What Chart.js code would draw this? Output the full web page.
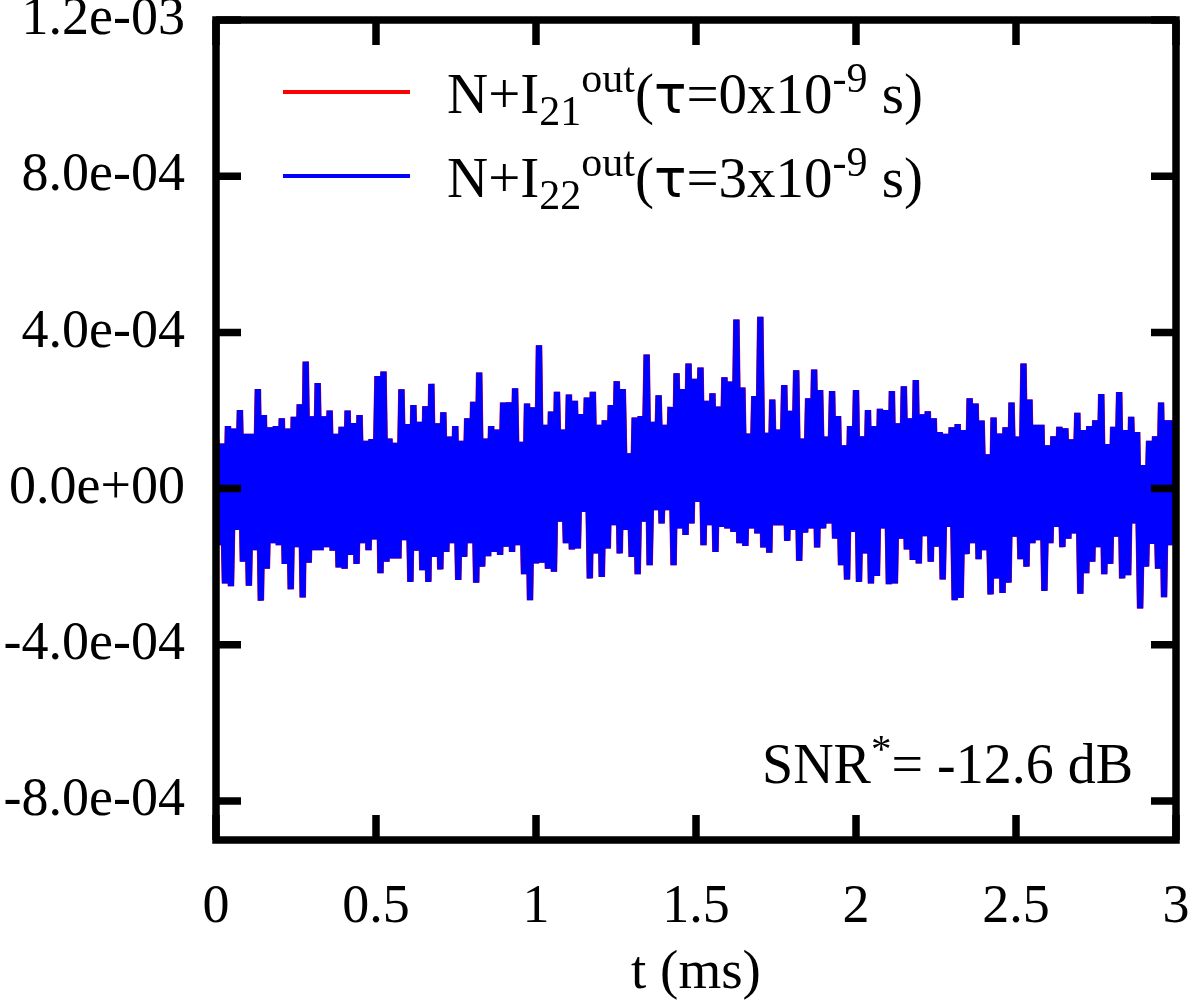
<!DOCTYPE html>
<html>
<head>
<meta charset="utf-8">
<script src="https://cdn.jsdelivr.net/npm/chart.js@4.4.1/dist/chart.umd.min.js"></script>
<style>
    html, body { margin: 0; padding: 0; background: #fff; }
    #wrap { width: 1200px; height: 1000px; }
</style>
</head>
<body>
<div id="wrap"><canvas id="chart" width="1200" height="1000"></canvas></div>
<script>
// time axis (ms)
const timeMaxMs = 3;
const xTickValues = [0, 0.5, 1, 1.5, 2, 2.5, 3];
const xTickLabels = ["0", "0.5", "1", "1.5", "2", "2.5", "3"];

// amplitude axis, values in units of 1e-4
const yMin = -9;
const yMax = 12;
const yTickValues = [-8, -4, 0, 4, 8, 12];
const yTickLabels = ["-8.0e-04", "-4.0e-04", "0.0e+00", "4.0e-04", "8.0e-04", "1.2e-03"];

// noise, uniform sampling over 0..3 ms (units of 1e-4)
// the two outputs overlap almost everywhere, so the same samples are used for both
const noiseSamples = [
    1.3, -1.45, 1.15, -2.43, 1.6, -2.5, 1.54, -1.06, 2.01, -1.87, 1.4, -2.49, 1.4, -1.58, 2.55, -2.87,
    1.88, -2.05, 1.57, -1.4, 1.6, -1.45, 1.8, -1.93, 1.54, -2.58, 1.84, -1.5, 2.16, -2.79, 3.25, -1.9,
    1.85, -1.58, 2.7, -1.58, 1.85, -1.5, 2.0, -1.59, 1.4, -2.02, 1.58, -2.05, 2.0, -1.7, 1.68, -1.93,
    1.88, -1.4, 1.22, -1.58, 1.27, -1.3, 2.88, -2.17,
    3.0, -1.87, 1.28, -1.79, 1.17, -1.79, 2.54, -1.32, 1.65, -2.39, 2.14, -1.59, 1.71, -2.09, 2.11, -2.39,
    2.68, -1.75, 1.67, -2.07, 1.95, -1.62, 1.33, -1.4, 1.6, -2.34, 1.22, -1.75, 1.8, -1.4, 2.22, -2.41,
    2.97, -2.0, 1.28, -1.73, 1.6, -1.62, 1.51, -1.7, 2.2, -1.49, 2.21, -1.62, 2.57, -1.45, 1.2, -2.19,
    2.18, -2.86, 2.08, -1.92, 3.67, -1.9,
    1.63, -2.05, 1.97, -2.13, 2.48, -0.85, 1.51, -1.4, 2.41, -1.56, 2.25, -1.53, 1.91, -0.6, 2.33, -2.3,
    2.48, -1.66, 1.63, -2.26, 1.75, -1.53, 2.14, -0.94, 2.75, -1.66, 2.55, -1.06, 0.9, -1.75, 1.82, -2.19,
    1.86, -0.85, 3.43, -1.96, 1.71, -0.55, 2.39, -0.89, 1.63, -0.55, 2.09, -1.96, 2.95, -1.02, 2.55, -1.19,
    3.2, -0.89, 2.81, -0.34,
    3.1, -1.45, 2.25, -0.94, 2.44, -1.62, 2.1, -0.98, 2.85, -1.02, 2.74, -1.11, 4.33, -1.4, 2.59, -1.47,
    1.41, -1.02, 2.37, -1.15, 4.4, -1.51, 1.43, -1.64, 2.28, -0.94, 1.51, -0.94, 2.65, -1.34, 1.99, -1.06,
    3.03, -1.85, 1.28, -1.13, 2.31, -1.02, 3.05, -1.51, 2.52, -1.02, 1.33, -0.89, 2.5, -1.28, 1.86, -1.96,
    1.11, -2.33, 1.6, -1.11, 2.52, -2.39,
    1.34, -1.66, 2.01, -2.43, 1.6, -2.24, 2.04, -1.02, 2.01, -2.45, 2.5, -2.43, 1.67, -1.28, 2.62, -1.56,
    1.8, -1.83, 2.78, -1.92, 1.9, -1.22, 1.98, -1.87, 1.8, -1.49, 1.45, -2.33, 1.4, -0.98, 1.57, -2.86,
    1.65, -2.8, 1.5, -1.68, 2.31, -1.4, 2.18, -1.81, 1.74, -1.58, 0.88, -2.71, 1.82, -2.3, 1.41, -2.67,
    1.57, -2.41, 2.2, -1.23, 1.33, -1.81,
    3.2, -2.0, 2.28, -1.4, 1.63, -1.32, 1.63, -2.62, 1.11, -1.4, 1.34, -0.98, 1.58, -1.5, 1.54, -1.28,
    1.26, -1.15, 1.94, -2.69, 1.5, -2.17, 1.6, -1.87, 1.75, -1.5, 2.42, -2.19, 1.14, -1.93, 1.58, -1.23,
    2.47, -2.3, 1.5, -2.22, 1.84, -0.89, 1.45, -3.07, 0.6, -2.0, 1.22, -1.42, 1.34, -2.05, 2.2, -2.78,
    1.75, -1.45, 1.75, -1.45
];

const seriesColors = ["#ff0000", "#0000ff"];
const seriesSub = ["21", "22"];
const seriesDelay = ["0", "3"];
const snrText = "-12.6 dB";

const serif = "'Liberation Serif', 'Times New Roman', serif";

function toPoints(values) {
    return values.map((v, i) => ({ x: i * timeMaxMs / (values.length - 1), y: v }));
}

// rich text: parts of [text, kind] where kind is main / sub / sup / greek
function drawRich(ctx, x, baseline, parts, size) {
    const small = Math.round(size * 0.74);
    const fonts = {
        main: size + "px " + serif,
        sub: small + "px " + serif,
        sup: small + "px " + serif,
        greek: Math.round(size * 0.95) + "px 'DejaVu Sans', sans-serif",
    };
    const shift = { main: 0, sub: 12, sup: -21, greek: 0 };
    ctx.textAlign = "left";
    ctx.textBaseline = "alphabetic";
    parts.forEach(([text, kind]) => {
        ctx.font = fonts[kind];
        ctx.fillText(text, x, baseline + shift[kind]);
        x += ctx.measureText(text).width;
    });
}

const framePlugin = {
    id: "frame",
    afterDatasetsDraw(chart) {
        const { ctx, chartArea: a, scales: { x, y } } = chart;
        const tickLen = 25;
        ctx.save();
        ctx.strokeStyle = "#000";
        ctx.lineWidth = 7.5;
        ctx.beginPath();
        xTickValues.forEach(v => {
            const px = x.getPixelForValue(v);
            ctx.moveTo(px, a.bottom);
            ctx.lineTo(px, a.bottom - tickLen);
            ctx.moveTo(px, a.top);
            ctx.lineTo(px, a.top + tickLen);
        });
        yTickValues.forEach(v => {
            const py = y.getPixelForValue(v);
            ctx.moveTo(a.left, py);
            ctx.lineTo(a.left + tickLen, py);
            ctx.moveTo(a.right, py);
            ctx.lineTo(a.right - tickLen, py);
        });
        ctx.stroke();
        ctx.lineJoin = "miter";
        ctx.strokeRect(a.left, a.top, a.right - a.left, a.bottom - a.top);

        // legend
        ctx.lineWidth = 4;
        ctx.fillStyle = "#000";
        seriesColors.forEach((c, i) => {
            const ly = 92 + i * 84;
            ctx.strokeStyle = c;
            ctx.beginPath();
            ctx.moveTo(283, ly);
            ctx.lineTo(410, ly);
            ctx.stroke();
            drawRich(ctx, 447, ly + 21, [
                ["N+I", "main"], [seriesSub[i], "sub"], ["out", "sup"], ["(", "main"],
                ["\u03c4", "greek"], ["=" + seriesDelay[i] + "x10", "main"], ["-9", "sup"], [" s)", "main"],
            ], 57);
        });

        drawRich(ctx, 762, 783, [["SNR", "main"], ["*", "sup"], ["= " + snrText, "main"]], 56);
        ctx.restore();
    },
};

new Chart(document.getElementById("chart"), {
    type: "line",
    data: {
        datasets: [
            {
                label: "N+I21out(tau=0x10-9 s)",
                data: toPoints(noiseSamples),
                borderColor: seriesColors[0],
                borderWidth: 6.6,
                borderJoinStyle: "bevel",
                pointRadius: 0,
                tension: 0,
                order: 2,
            },
            {
                label: "N+I22out(tau=3x10-9 s)",
                data: toPoints(noiseSamples),
                borderColor: seriesColors[1],
                borderWidth: 6,
                borderJoinStyle: "bevel",
                pointRadius: 0,
                tension: 0,
                order: 1,
            },
        ],
    },
    options: {
        responsive: false,
        animation: false,
        layout: { padding: { top: 20, right: 24, bottom: 0, left: 0 } },
        plugins: {
            legend: { display: false },
            tooltip: { enabled: false },
        },
        scales: {
            x: {
                type: "linear",
                min: 0,
                max: timeMaxMs,
                grid: { display: false, drawTicks: false },
                border: { display: false },
                afterBuildTicks: s => { s.ticks = xTickValues.map(v => ({ value: v })); },
                afterFit: s => { s.height = 160; s.paddingLeft = 0; s.paddingRight = 0; },
                ticks: {
                    autoSkip: false,
                    maxRotation: 0,
                    padding: 35,
                    color: "#000",
                    font: { family: serif, size: 54 },
                    callback: v => xTickLabels[xTickValues.indexOf(v)],
                },
                title: {
                    display: true,
                    text: "t (ms)",
                    color: "#000",
                    font: { family: serif, size: 55 },
                    padding: { top: 0, bottom: -7 },
                },
            },
            y: {
                min: yMin,
                max: yMax,
                grid: { display: false, drawTicks: false },
                border: { display: false },
                afterBuildTicks: s => { s.ticks = yTickValues.map(v => ({ value: v })); },
                afterFit: s => { s.width = 216; s.paddingTop = 0; s.paddingBottom = 0; },
                ticks: {
                    padding: 31,
                    color: "#000",
                    font: { family: serif, size: 54 },
                    callback: v => yTickLabels[yTickValues.indexOf(v)],
                },
            },
        },
    },
    plugins: [framePlugin],
});
</script>
</body>
</html>
